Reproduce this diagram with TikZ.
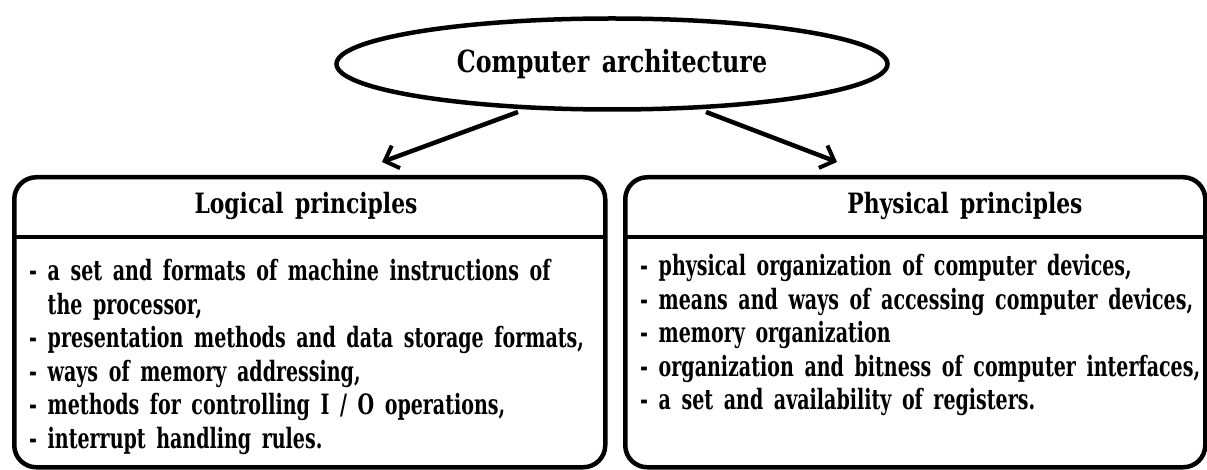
\documentclass[tikz,border=0pt]{standalone}
\usepackage{fontspec}
\setmainfont{DejaVu Serif}[FakeStretch=0.68,WordSpace=1.6]
\newfontfamily\headfont{DejaVu Serif}[FakeStretch=0.78,WordSpace=1.5]
\usetikzlibrary{shapes.geometric,arrows.meta}
\tikzset{
  frame/.style={draw, line width=4.5pt},
  arr/.style={line width=4.5pt, -{Straight Barb[length=12pt,width=24pt,line width=4pt]}},
  head/.style={font=\headfont\fontsize{28}{30}\selectfont\bfseries},
  body/.style={font=\fontsize{28}{33.6}\selectfont\bfseries, align=left, inner sep=0pt, anchor=north west},
}
\begin{document}
\begin{tikzpicture}[x=1pt,y=-1pt]
\useasboundingbox (0,0) rectangle (1207,470);
% top ellipse
\node[frame, ellipse, minimum width=551pt, minimum height=91pt,
      font=\headfont\fontsize{30.5}{34}\selectfont\bfseries] (arch) at (612,64) {Computer architecture};
% two boxes
\node[frame, rounded corners=22pt, minimum width=591pt, minimum height=290pt, anchor=north west] (lbox) at (12,175) {};
\node[frame, rounded corners=22pt, minimum width=580pt, minimum height=290pt, anchor=north west] (rbox) at (623,175) {};
\coordinate (ldl) at (12,237);  \coordinate (ldr) at (603,237);
\coordinate (rdl) at (623,237); \coordinate (rdr) at (1203,237);
\draw[line width=4.5pt] (ldl) -- (ldr);
\draw[line width=4.5pt] (rdl) -- (rdr);
% titles
\node[head] (ltitle) at (306,206) {Logical principles};
\node[head] (rtitle) at (965,206) {Physical principles};
% arrows
\coordinate (la) at (518,112); \coordinate (ra) at (706,112);
\coordinate (lt) at (382,162); \coordinate (rt) at (837,162);
\draw[arr] (la) -- (lt);
\draw[arr] (ra) -- (rt);
% lists
\node[body] (ltext) at (29,259) {- a set and formats of machine instructions of\\
\phantom{- }the processor,\\
- presentation methods and data storage formats,\\
- ways of memory addressing,\\
- methods for controlling I / O operations,\\
- interrupt handling rules.};
\node[body] (rtext) at (640,254) {- physical organization of computer devices,\\
- means and ways of accessing computer devices,\\
- memory organization\\
- organization and bitness of computer interfaces,\\
- a set and availability of registers.};
\end{tikzpicture}
\end{document}
